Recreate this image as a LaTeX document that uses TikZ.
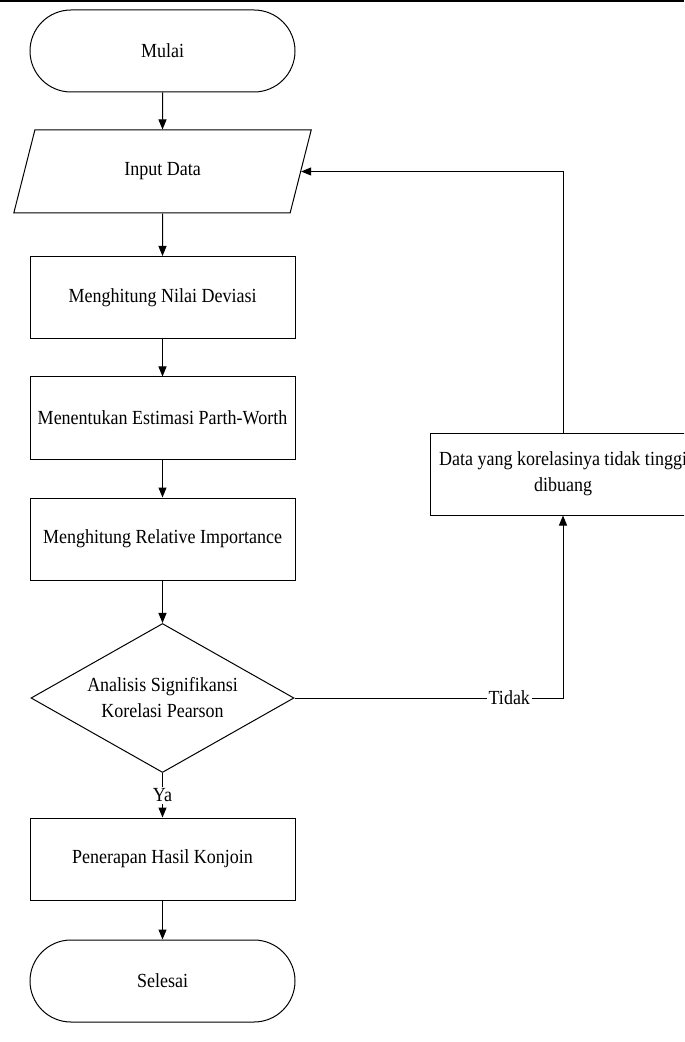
\documentclass[tikz,border=0pt]{standalone}
\usepackage{fontspec}
\setmainfont{Liberation Serif}[FakeStretch=0.9]
\usetikzlibrary{shapes.geometric,arrows.meta}
\tikzset{
  >={Triangle[length=5pt,width=4pt]},
  proc/.style={draw,rectangle,minimum width=132.5pt,minimum height=41pt,inner sep=0pt,align=center},
  term/.style={proc,rounded corners=20.5pt},
  io/.style={draw,trapezium,trapezium left angle=70,trapezium right angle=110,trapezium stretches=true,minimum width=149pt,minimum height=41.5pt,inner sep=0pt},
  decide/.style={draw,diamond,aspect=1.77,minimum width=131.5pt,minimum height=74.5pt,inner sep=0pt,align=center},
  lbl/.style={fill=white,inner sep=1pt}
}
\begin{document}
\begin{tikzpicture}[x=0.5pt,y=-0.5pt,line width=0.5pt,font=\fontsize{10}{13}\selectfont]
\useasboundingbox (0,0) rectangle (684,1042);
\clip (0,0) rectangle (684,1042);
\draw[line width=1.5pt] (0,1) -- (684,1);
\node[term] (mulai) at (162.5,51) {Mulai};
\node[io] (inp) at (162.5,171.5) {Input Data};
\node[proc] (dev) at (162.5,297.5) {Menghitung Nilai Deviasi};
\node[proc] (est) at (162.5,418) {Menentukan Estimasi Parth-Worth};
\node[proc] (ri) at (162.5,539) {Menghitung Relative Importance};
\node[decide] (dia) at (162.5,698) {Analisis Signifikansi\\Korelasi Pearson};
\node[proc] (hasil) at (162.5,859) {Penerapan Hasil Konjoin};
\node[term] (selesai) at (162.5,981) {Selesai};
\node[proc] (buang) at (563,474) {Data yang korelasinya tidak tinggi\\dibuang};
\draw[->] (mulai) -- (inp);
\draw[->] (inp) -- (dev);
\draw[->] (dev) -- (est);
\draw[->] (est) -- (ri);
\draw[->] (ri) -- (dia);
\draw[->] (dia) -- node[lbl] {Ya} (hasil);
\draw[->] (hasil) -- (selesai);
\draw[->] (dia.east) -| node[lbl,pos=0.4] {Tidak} (buang.south);
\draw[->] (buang.north) |- (inp.east);
\end{tikzpicture}
\end{document}
